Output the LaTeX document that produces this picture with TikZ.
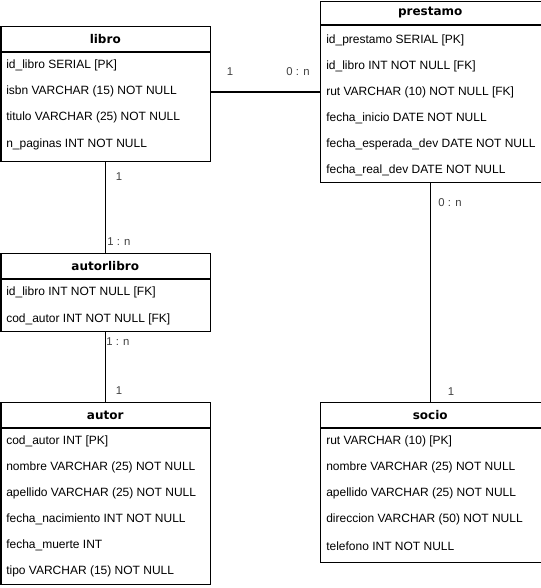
\documentclass[tikz,border=0pt]{standalone}
\usepackage{fontspec}
\setmainfont{Liberation Sans}
\newfontfamily\titlefont{DejaVu Sans}
\begin{document}
\begin{tikzpicture}[x=0.75pt,y=-0.75pt,
  tbl/.style={draw=black,line width=0.9pt,rectangle,inner sep=0pt,anchor=north west},
  hdr/.style={font=\titlefont\bfseries\fontsize{9}{10}\selectfont,inner sep=0pt},
  fld/.style={font=\fontsize{9}{10}\selectfont,anchor=west,inner sep=0pt,yshift=-0.6pt},
  card/.style={font=\fontsize{8.5}{9}\selectfont,text=black!75,inner sep=0pt},
  rel/.style={draw=black,line width=0.9pt},
  sep/.style={draw=black,line width=0.9pt}]
\useasboundingbox (0,0) rectangle (541,588);
% tables
\node[tbl,minimum width=209.5*0.75pt,minimum height=135*0.75pt] (libro) at (0.5,26) {};
\node[tbl,minimum width=220.5*0.75pt,minimum height=181*0.75pt] (prestamo) at (320,1) {};
\node[tbl,minimum width=209.5*0.75pt,minimum height=78*0.75pt] (autorlibro) at (0.5,253) {};
\node[tbl,minimum width=209.5*0.75pt,minimum height=182*0.75pt] (autor) at (0.5,402) {};
\node[tbl,minimum width=220.5*0.75pt,minimum height=160*0.75pt] (socio) at (320,402) {};
% header separators
\draw[sep] (0.5,52) -- (210,52);
\draw[sep] (320,25) -- (540.5,25);
\draw[sep] (0.5,279) -- (210,279);
\draw[sep] (0.5,428) -- (210,428);
\draw[sep] (320,428) -- (540.5,428);
% titles
\node[hdr] (tlibro) at (105.25,39) {libro};
\node[hdr] (tprestamo) at (430.25,13) {prestamo};
\node[hdr] (tautorlibro) at (105.25,266) {autorlibro};
\node[hdr] (tautor) at (105.25,415) {autor};
\node[hdr] (tsocio) at (430.25,415) {socio};
% libro fields
\node[fld] (l1) at (6,65) {id\_libro SERIAL [PK]};
\node[fld] (l2) at (6,91) {isbn VARCHAR (15) NOT NULL};
\node[fld] (l3) at (6,117) {titulo VARCHAR (25) NOT NULL};
\node[fld] (l4) at (6,144) {n\_paginas INT NOT NULL};
% prestamo fields
\node[fld] (p1) at (326,40) {id\_prestamo SERIAL [PK]};
\node[fld] (p2) at (326,66) {id\_libro INT NOT NULL [FK]};
\node[fld] (p3) at (326,92) {rut VARCHAR (10) NOT NULL [FK]};
\node[fld] (p4) at (326,118) {fecha\_inicio DATE NOT NULL};
\node[fld] (p5) at (326,144) {fecha\_esperada\_dev DATE NOT NULL};
\node[fld] (p6) at (326,170) {fecha\_real\_dev DATE NOT NULL};
% autorlibro fields
\node[fld] (al1) at (6,292) {id\_libro INT NOT NULL [FK]};
\node[fld] (al2) at (6,319) {cod\_autor INT NOT NULL [FK]};
% autor fields
\node[fld] (a1) at (6,441) {cod\_autor INT [PK]};
\node[fld] (a2) at (6,467) {nombre VARCHAR (25) NOT NULL};
\node[fld] (a3) at (6,493) {apellido VARCHAR (25) NOT NULL};
\node[fld] (a4) at (6,519) {fecha\_nacimiento INT NOT NULL};
\node[fld] (a5) at (6,545) {fecha\_muerte INT};
\node[fld] (a6) at (6,571) {tipo VARCHAR (15) NOT NULL};
% socio fields
\node[fld] (s1) at (326,441) {rut VARCHAR (10) [PK]};
\node[fld] (s2) at (326,467) {nombre VARCHAR (25) NOT NULL};
\node[fld] (s3) at (326,493) {apellido VARCHAR (25) NOT NULL};
\node[fld] (s4) at (326,519) {direccion VARCHAR (50) NOT NULL};
\node[fld] (s5) at (326,545) {telefono INT NOT NULL};
% relations
\draw[rel] (libro.east |- prestamo.west) -- (prestamo.west);
\draw[rel] (libro.south) -- (autorlibro.north);
\draw[rel] (autorlibro.south) -- (autor.north);
\draw[rel] (prestamo.south) -- (socio.north);
% cardinalities
\node[card] (c1) at (230,72) {1};
\node[card] (c2) at (298,72) {0 : n};
\node[card] (c3) at (119,177) {1};
\node[card] (c4) at (119,242) {1 : n};
\node[card] (c5) at (118,342) {1 : n};
\node[card] (c6) at (119,391) {1};
\node[card] (c7) at (450,203) {0 : n};
\node[card] (c8) at (451,392) {1};
\end{tikzpicture}
\end{document}
